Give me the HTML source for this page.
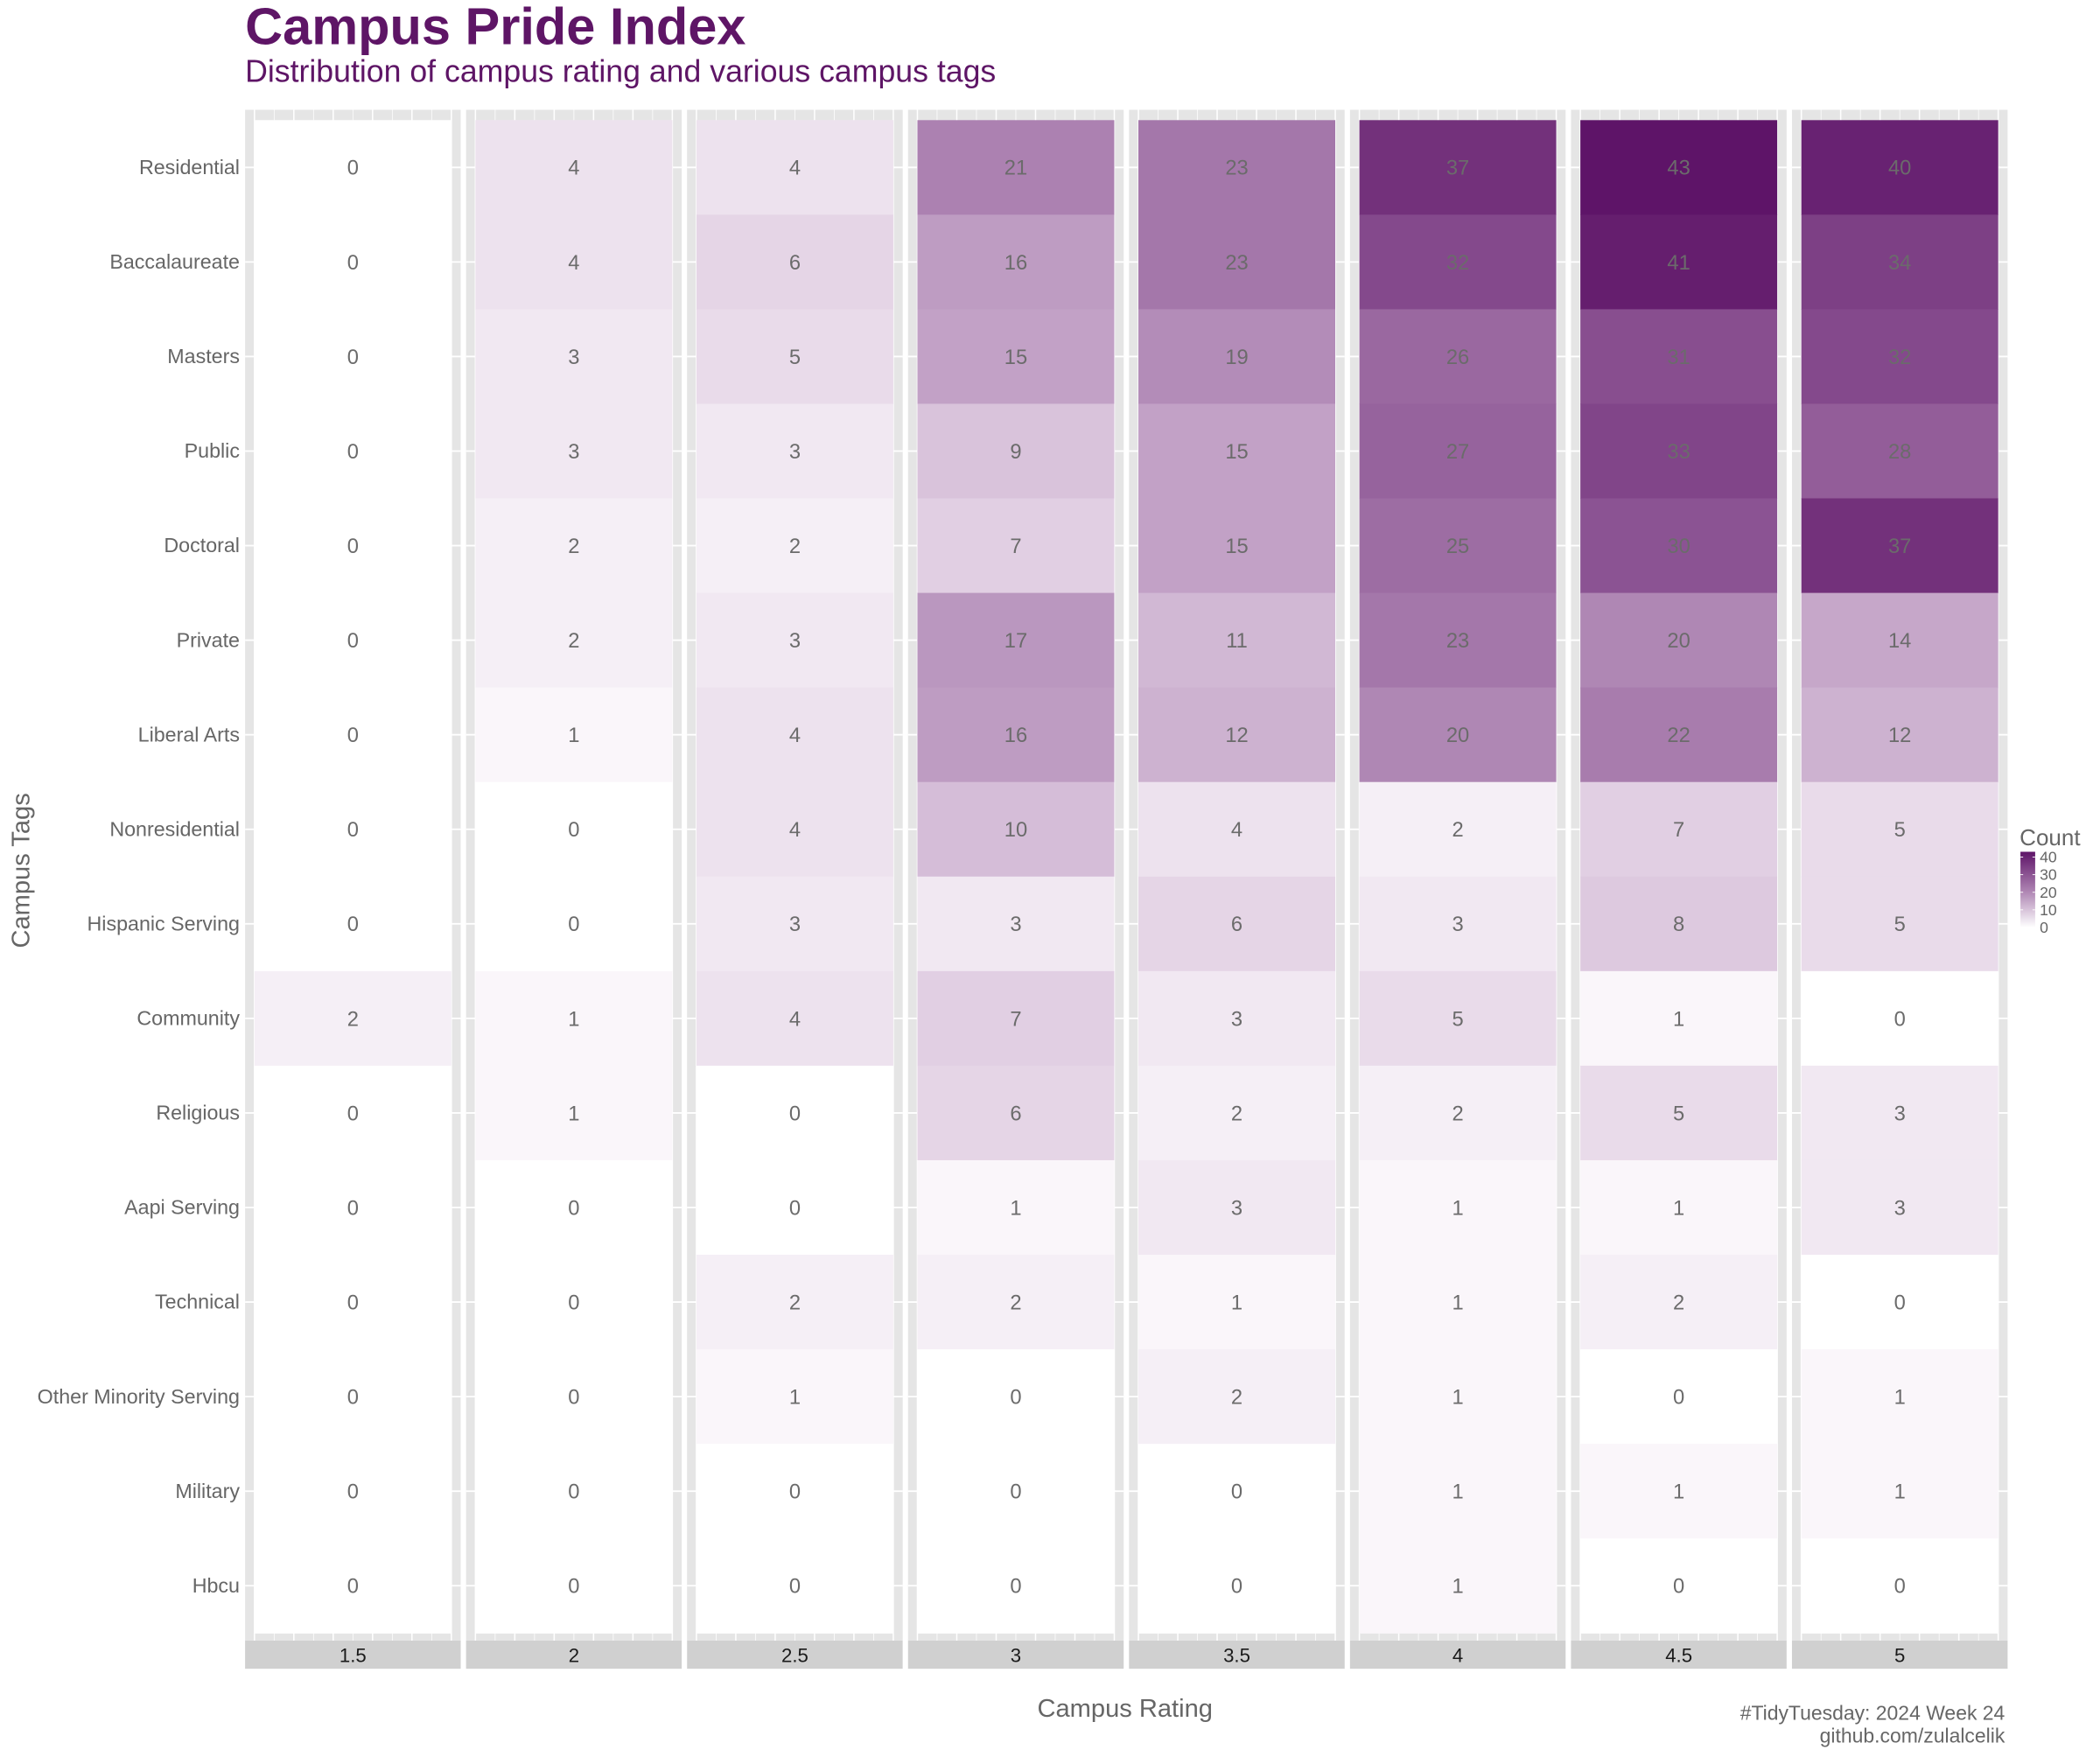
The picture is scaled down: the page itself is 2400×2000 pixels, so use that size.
<!DOCTYPE html>
<html><head><meta charset="utf-8"><style>
html,body{margin:0;padding:0;background:#fff;}
svg{display:block;font-family:"Liberation Sans",Arial,sans-serif;}
</style></head><body>
<svg id="chart" width="2400" height="2000" viewBox="0 0 1568 1306.67" xmlns="http://www.w3.org/2000/svg">
<rect width="1568" height="1306.67" fill="#fff"/>
<text x="183" y="33" font-size="38.9" font-weight="bold" fill="#5E1566">Campus Pride Index</text>
<text x="183" y="61" font-size="23.3" fill="#5E1566">Distribution of campus rating and various campus tags</text>
<g id="panels"></g>
<text transform="translate(22,650) rotate(-90)" text-anchor="middle" font-size="19" fill="#666">Campus Tags</text>
<text x="840" y="1282" text-anchor="middle" font-size="19" fill="#666">Campus Rating</text>
<text x="1497" y="1284" text-anchor="end" font-size="15" fill="#666">#TidyTuesday: 2024 Week 24</text>
<text x="1497" y="1301" text-anchor="end" font-size="15" fill="#666">github.com/zulalcelik</text>
<g id="legend"></g>
</svg>
<script>
const ratings = ["1.5","2","2.5","3","3.5","4","4.5","5"];
const tags = ["Residential","Baccalaureate","Masters","Public","Doctoral","Private","Liberal Arts","Nonresidential","Hispanic Serving","Community","Religious","Aapi Serving","Technical","Other Minority Serving","Military","Hbcu"];
const counts = [
 [0,4,4,21,23,37,43,40],
 [0,4,6,16,23,32,41,34],
 [0,3,5,15,19,26,31,32],
 [0,3,3,9,15,27,33,28],
 [0,2,2,7,15,25,30,37],
 [0,2,3,17,11,23,20,14],
 [0,1,4,16,12,20,22,12],
 [0,0,4,10,4,2,7,5],
 [0,0,3,3,6,3,8,5],
 [2,1,4,7,3,5,1,0],
 [0,1,0,6,2,2,5,3],
 [0,0,0,1,3,1,1,3],
 [0,0,2,2,1,1,2,0],
 [0,0,1,0,2,1,0,1],
 [0,0,0,0,0,1,1,1],
 [0,0,0,0,0,1,0,0]
];
const legendTicks = [0,10,20,30,40];
const maxCount = 43;

const NS = "http://www.w3.org/2000/svg";
function mk(tag, attrs, parent){const e=document.createElementNS(NS,tag);for(const k in attrs)e.setAttribute(k,attrs[k]);parent.appendChild(e);return e;}
function color(v){let t=Math.max(0,Math.min(1,v/maxCount));
 t=Math.pow(t,0.92);
 const r=Math.round(255-(255-94)*t),g=Math.round(255-(255-20)*Math.pow(t,0.95)),b=Math.round(255-(255-104)*t);
 return `rgb(${r},${g},${b})`;}
const panelX0=183, panelStep=165, panelW=161, inset=7;
const rowTop=89.7, rowH=70.6;
function px(i){return panelX0+i*panelStep;}
function rowY(j){return rowTop+j*rowH;}

const panels=document.getElementById('panels');
ratings.forEach((r,i)=>{
 const g=mk('g',{},panels);
 
 
 const x=px(i);
 mk('rect',{x:x,y:82,width:panelW,height:1143,fill:'#e5e5e5'},g);
 for(let k=0;k<=10;k++){const gx=x+inset+k*(panelW-2*inset)/10;
  mk('line',{x1:gx,x2:gx,y1:82,y2:1225,stroke:'#fff','stroke-width':k%2?0.5:1},g);}
 tags.forEach((t,j)=>{const cy=rowY(j)+rowH/2;
  mk('line',{x1:x,x2:x+panelW,y1:cy,y2:cy,stroke:'#fff','stroke-width':1.2},g);});
 tags.forEach((t,j)=>{
  const v=counts[j][i];
  const c=mk('rect',{x:x+inset,y:rowY(j),width:panelW-2*inset,height:rowH+0.4,fill:color(v)},g);
  
  
  const tx=mk('text',{x:x+panelW/2,y:rowY(j)+rowH/2+5.5,'text-anchor':'middle','font-size':15.5,fill:'#6b6b6b'},g);
  
  
  tx.textContent=v;
 });
 mk('rect',{x:x,y:1225,width:panelW,height:21,fill:'#d0d0d0'},g);
 const st=mk('text',{x:x+panelW/2,y:1241,'text-anchor':'middle','font-size':14.5,fill:'#1a1a1a'},g);
 
 
 st.textContent=r;
});
tags.forEach((t,j)=>{
 const cy=rowY(j)+rowH/2;
 const tx=mk('text',{x:179,y:cy+5,'text-anchor':'end','font-size':15.2,fill:'#666'},panels);
 
 
 tx.textContent=t;
});

const lg=document.getElementById('legend');
const lt=mk('text',{x:1508,y:631,'font-size':17,fill:'#666'},lg);


lt.textContent='Count';
const barTop=636, barBot=692.5;
function ly(v){return barBot-(barBot-barTop)*v/maxCount;}
const grad=mk('linearGradient',{id:'lgrad',x1:0,y1:1,x2:0,y2:0},mk('defs',{},lg));
mk('stop',{offset:0,'stop-color':color(0)},grad);
mk('stop',{offset:0.5,'stop-color':color(maxCount/2)},grad);
mk('stop',{offset:1,'stop-color':color(maxCount)},grad);
const bar=mk('rect',{x:1508.6,y:barTop,width:11,height:barBot-barTop,fill:'url(#lgrad)'},lg);


legendTicks.forEach(v=>{
 const y=ly(v);
 mk('line',{x1:1508.6,x2:1510.6,y1:y,y2:y,stroke:'#fff','stroke-width':0.6},lg);
 mk('line',{x1:1517.6,x2:1519.6,y1:y,y2:y,stroke:'#fff','stroke-width':0.6},lg);
 const t=mk('text',{x:1523,y:y+4,'font-size':11.5,fill:'#666'},lg);
 
 
 t.textContent=v;
});
</script>
</body></html>
